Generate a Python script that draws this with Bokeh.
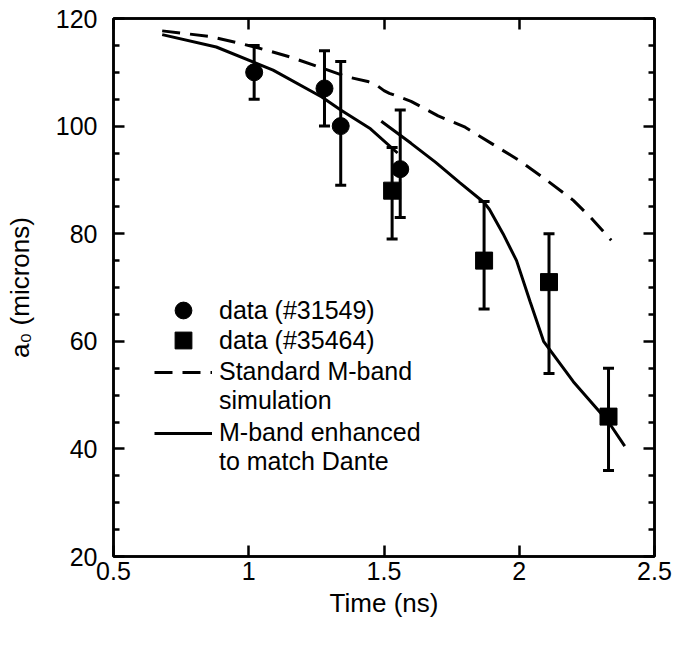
from bokeh.plotting import figure
from bokeh.models import (Range1d, LinearAxis, FixedTicker, Whisker, ColumnDataSource,
                          Legend, LegendItem, TeeHead, CustomJSTickFormatter)
from bokeh.embed import file_html
from bokeh.resources import INLINE

FONT = "Liberation Sans"

# ---- data ----
x_ticks = [0.5, 1.0, 1.5, 2.0, 2.5]
y_ticks = [20, 40, 60, 80, 100, 120]
y_minor = [25, 30, 35, 45, 50, 55, 65, 70, 75, 85, 90, 95, 105, 110, 115]

t_31549 = [1.02, 1.28, 1.34, 1.56]
a_31549 = [110, 107, 100, 92]
lo_31549 = [105, 100, 89, 83]
hi_31549 = [115, 114, 112, 103]

t_35464 = [1.53, 1.87, 2.11, 2.33]
a_35464 = [88, 75, 71, 46]
lo_35464 = [79, 66, 54, 36]
hi_35464 = [96, 86, 80, 55]

t_std = [0.68, 0.85, 0.95, 1.03, 1.15, 1.27, 1.36, 1.44, 1.47, 1.50, 1.52, 1.60, 1.70, 1.80,
         1.90, 2.00, 2.10, 2.20, 2.27, 2.34]
a_std = [117.7, 116.7, 115.6, 114.6, 112.9, 110.8, 109.2, 108.3, 107.7, 106.6, 106.1, 104.6,
         101.9, 99.8, 96.7, 93.6, 90.0, 86.2, 82.7, 78.8]

t_enhA = [0.68, 0.88, 1.09, 1.27, 1.34, 1.45, 1.55]
a_enhA = [117.0, 114.7, 110.4, 105.4, 103.0, 99.5, 95.0]

t_enhB = [1.49, 1.60, 1.69, 1.78, 1.87, 1.89, 1.94, 1.99, 2.04, 2.09, 2.20, 2.33, 2.39]
a_enhB = [100.9, 96.8, 93.3, 89.5, 85.8, 84.5, 80.0, 75.0, 67.4, 60.0, 52.5, 45.0, 40.5]

legend_labels = ["data (#31549)", "data (#35464)",
                 "Standard M-band", "simulation",
                 "M-band enhanced", "to match Dante"]

# ---- figure ----
p = figure(width=680, height=650, output_backend="svg", toolbar_location=None,
           x_range=Range1d(0.5, 2.5), y_range=Range1d(20, 120),
           min_border_left=113, min_border_right=26, min_border_top=18, min_border_bottom=94,
           x_axis_label="Time (ns)", y_axis_label="a₀ (microns)")
p.grid.visible = False
p.outline_line_color = "black"
p.outline_line_width = 2.5
p.background_fill_color = "white"
p.border_fill_color = "white"

p.xaxis.ticker = FixedTicker(ticks=x_ticks, minor_ticks=[])
p.yaxis.ticker = FixedTicker(ticks=y_ticks, minor_ticks=y_minor)

top_axis = LinearAxis(ticker=FixedTicker(ticks=x_ticks, minor_ticks=[]),
                      formatter=CustomJSTickFormatter(code="return ''"))
right_axis = LinearAxis(ticker=FixedTicker(ticks=y_ticks, minor_ticks=y_minor),
                        formatter=CustomJSTickFormatter(code="return ''"))
p.add_layout(top_axis, "above")
p.add_layout(right_axis, "right")

for ax in p.axis:
    ax.axis_line_width = 2.5
    ax.axis_line_color = "black"
    ax.major_tick_line_width = 2.5
    ax.minor_tick_line_width = 2.5
    ax.major_tick_in = 11
    ax.major_tick_out = 0
    ax.minor_tick_in = 6
    ax.minor_tick_out = 0
    ax.major_label_text_font = FONT
    ax.major_label_text_font_size = "25px"
    ax.major_label_text_color = "black"
    ax.axis_label_text_font = FONT
    ax.axis_label_text_font_size = "26px"
    ax.axis_label_text_font_style = "normal"
    ax.axis_label_text_color = "black"

p.xaxis[0].major_label_standoff = 14
p.xaxis[0].axis_label_standoff = 14
p.yaxis[0].major_label_standoff = 16
p.yaxis[0].axis_label_standoff = 18
top_axis.major_label_standoff = 0
right_axis.major_label_standoff = 0

# ---- error bars ----
src1 = ColumnDataSource(dict(t=t_31549, a=a_31549, lo=lo_31549, hi=hi_31549))
src2 = ColumnDataSource(dict(t=t_35464, a=a_35464, lo=lo_35464, hi=hi_35464))
for src in (src1, src2):
    w = Whisker(source=src, base="t", upper="hi", lower="lo",
                line_width=3, line_color="black",
                upper_head=TeeHead(size=11, line_width=3, line_color="black"),
                lower_head=TeeHead(size=11, line_width=3, line_color="black"))
    p.add_layout(w)

# ---- curves ----
r_std = p.line(t_std, a_std, line_width=3, line_color="black", line_dash="18 10")
r_A = p.line(t_enhA, a_enhA, line_width=3, line_color="black")
r_B = p.line(t_enhB, a_enhB, line_width=3, line_color="black")

# ---- data markers ----
r_c = p.scatter("t", "a", source=src1, marker="circle", size=17, color="black")
r_s = p.scatter("t", "a", source=src2, marker="square", size=17, color="black")

# invisible key for continuation lines of legend entries
r_blank = p.line(x=[], y=[], line_alpha=0)


def make_legend(items, loc, glyph_h, spacing):
    lg = Legend(items=items, location=loc, glyph_width=58, glyph_height=glyph_h,
                label_standoff=7, padding=0, margin=0, spacing=spacing,
                border_line_color=None, background_fill_alpha=0,
                label_text_font=FONT, label_text_font_size="25px",
                label_text_color="black")
    p.add_layout(lg)
    return lg


make_legend([LegendItem(label=legend_labels[0], renderers=[r_c])], (41, 225), 42, 0)
make_legend([LegendItem(label=legend_labels[1], renderers=[r_s])], (41, 195), 42, 0)
make_legend([LegendItem(label=legend_labels[2], renderers=[r_std]),
             LegendItem(label=legend_labels[3], renderers=[r_blank])], (41, 141), 20, -7)
make_legend([LegendItem(label=legend_labels[4], renderers=[r_A]),
             LegendItem(label=legend_labels[5], renderers=[r_blank])], (41, 80), 20, -7)

open("out.html", "w").write(file_html(p, INLINE))
